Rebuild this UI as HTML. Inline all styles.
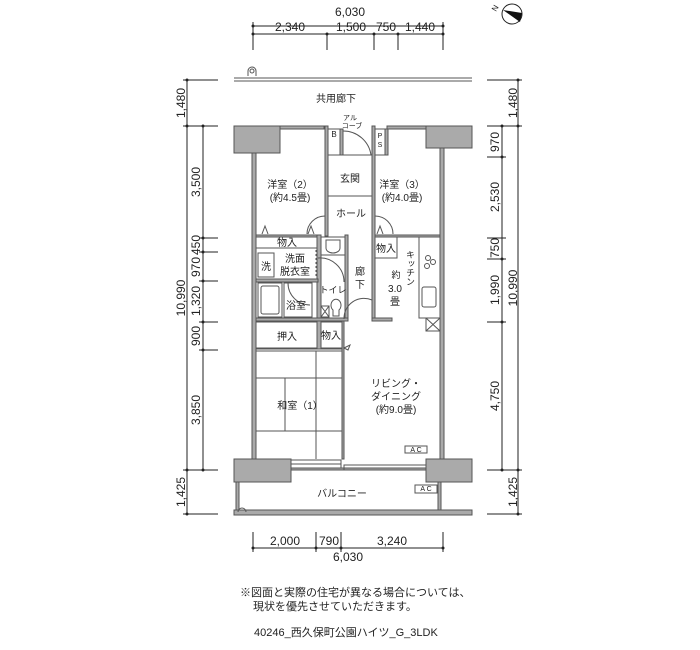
<!DOCTYPE html>
<html><head><meta charset="utf-8"><style>
html,body{margin:0;padding:0;background:#fff;}
svg{display:block;}
text{font-family:"Liberation Sans","Noto Sans CJK JP",sans-serif;fill:#222;}
</style></head><body>
<svg width="700" height="650" viewBox="0 0 700 650" xmlns="http://www.w3.org/2000/svg">
<g stroke="#222" stroke-width="1" fill="none">
<line x1="253" y1="26" x2="443" y2="26"/>
<line x1="253" y1="34" x2="443" y2="34"/>
<line x1="253" y1="22" x2="253" y2="50"/><line x1="443" y1="22" x2="443" y2="50"/>
<line x1="327" y1="34" x2="327" y2="50"/><line x1="374" y1="34" x2="374" y2="50"/><line x1="398" y1="34" x2="398" y2="50"/>
<line x1="187" y1="80" x2="187" y2="514"/>
<line x1="203" y1="126" x2="203" y2="470"/>
<line x1="183" y1="80" x2="218" y2="80"/><line x1="183" y1="126" x2="218" y2="126"/>
<line x1="199" y1="238" x2="218" y2="238"/><line x1="199" y1="252" x2="218" y2="252"/>
<line x1="199" y1="281" x2="218" y2="281"/><line x1="199" y1="322" x2="218" y2="322"/>
<line x1="199" y1="350" x2="218" y2="350"/>
<line x1="183" y1="470" x2="218" y2="470"/><line x1="183" y1="514" x2="218" y2="514"/>
<line x1="518" y1="80" x2="518" y2="514"/>
<line x1="502" y1="126" x2="502" y2="470"/>
<line x1="487" y1="80" x2="522" y2="80"/><line x1="487" y1="126" x2="522" y2="126"/>
<line x1="487" y1="157" x2="506" y2="157"/><line x1="487" y1="238" x2="506" y2="238"/>
<line x1="487" y1="259" x2="506" y2="259"/><line x1="487" y1="322" x2="506" y2="322"/>
<line x1="487" y1="470" x2="522" y2="470"/><line x1="487" y1="514" x2="522" y2="514"/>
<line x1="253" y1="548" x2="443" y2="548"/>
<line x1="253" y1="532" x2="253" y2="552"/><line x1="316" y1="532" x2="316" y2="552"/>
<line x1="341" y1="532" x2="341" y2="552"/><line x1="443" y1="532" x2="443" y2="552"/>
</g>
<g fill="#222">
<circle cx="253" cy="26" r="1.5"/><circle cx="443" cy="26" r="1.5"/>
<circle cx="253" cy="34" r="1.5"/><circle cx="327" cy="34" r="1.5"/><circle cx="374" cy="34" r="1.5"/><circle cx="398" cy="34" r="1.5"/><circle cx="443" cy="34" r="1.5"/>
<circle cx="187" cy="80" r="1.5"/><circle cx="187" cy="126" r="1.5"/><circle cx="187" cy="470" r="1.5"/><circle cx="187" cy="514" r="1.5"/>
<circle cx="203" cy="126" r="1.5"/><circle cx="203" cy="238" r="1.5"/><circle cx="203" cy="252" r="1.5"/><circle cx="203" cy="281" r="1.5"/><circle cx="203" cy="322" r="1.5"/><circle cx="203" cy="350" r="1.5"/><circle cx="203" cy="470" r="1.5"/>
<circle cx="518" cy="80" r="1.5"/><circle cx="518" cy="126" r="1.5"/><circle cx="518" cy="470" r="1.5"/><circle cx="518" cy="514" r="1.5"/>
<circle cx="502" cy="126" r="1.5"/><circle cx="502" cy="157" r="1.5"/><circle cx="502" cy="259" r="1.5"/><circle cx="502" cy="322" r="1.5"/><circle cx="502" cy="470" r="1.5"/>
<circle cx="253" cy="548" r="1.5"/><circle cx="316" cy="548" r="1.5"/><circle cx="341" cy="548" r="1.5"/><circle cx="443" cy="548" r="1.5"/>
</g>
<g font-size="12" text-anchor="middle">
<text x="350" y="16">6,030</text>
<text x="290" y="31">2,340</text><text x="351" y="31">1,500</text><text x="386" y="31">750</text><text x="420" y="31">1,440</text>
<text x="285" y="545">2,000</text><text x="329" y="545">790</text><text x="392" y="545">3,240</text>
<text x="348" y="561">6,030</text>
</g>
<g font-size="12" text-anchor="middle">
<text transform="translate(185,103) rotate(-90)">1,480</text>
<text transform="translate(185,298) rotate(-90)">10,990</text>
<text transform="translate(185,492) rotate(-90)">1,425</text>
<text transform="translate(200,182) rotate(-90)">3,500</text>
<text transform="translate(200,245) rotate(-90)">450</text>
<text transform="translate(200,267) rotate(-90)">970</text>
<text transform="translate(200,301) rotate(-90)">1,320</text>
<text transform="translate(200,336) rotate(-90)">900</text>
<text transform="translate(200,410) rotate(-90)">3,850</text>
<text transform="translate(517,103) rotate(-90)">1,480</text>
<text transform="translate(517,288) rotate(-90)">10,990</text>
<text transform="translate(517,492) rotate(-90)">1,425</text>
<text transform="translate(499,142) rotate(-90)">970</text>
<text transform="translate(499,197) rotate(-90)">2,530</text>
<text transform="translate(499,248) rotate(-90)">750</text>
<text transform="translate(499,290) rotate(-90)">1,990</text>
<text transform="translate(499,396) rotate(-90)">4,750</text>
</g>
<circle cx="512" cy="14" r="10" fill="#fff" stroke="#222"/>
<path d="M503,10 L522,13 L520,22 Z" fill="#111"/>
<text x="496" y="12" font-size="8" transform="rotate(-60 496 12)">N</text>
<g stroke="#555" fill="none">
<line x1="234" y1="78" x2="472" y2="78"/><line x1="234" y1="81" x2="472" y2="81"/>
<path d="M248,76 v-5 a4,4 0 0 1 8,0 v5" /><circle cx="252" cy="71" r="2"/>
</g>
<text x="336" y="102" font-size="10" text-anchor="middle">共用廊下</text>
<text x="350" y="120" font-size="7" text-anchor="middle">アル</text>
<text x="352" y="128" font-size="7" text-anchor="middle">コーブ</text>
<g fill="#aaa" stroke="#555" stroke-width="1">
<rect x="234" y="126" width="46" height="27"/>
<rect x="426" y="126" width="46" height="22"/>
<rect x="234" y="459" width="57" height="23"/>
<rect x="426" y="459" width="46" height="23"/>
<rect x="252" y="153" width="4" height="306"/>
<rect x="440" y="148" width="4" height="311"/>
<rect x="280" y="126" width="44" height="3"/>
<rect x="387" y="126" width="39" height="3"/>
<rect x="325" y="126" width="3" height="110"/>
<rect x="372" y="126" width="3" height="194"/>
<rect x="340" y="129" width="3" height="26"/>
<rect x="385" y="129" width="3" height="26"/>
<rect x="256" y="235" width="62" height="2"/>
<rect x="375" y="235" width="65" height="2"/>
<rect x="317" y="235" width="4" height="114"/>
<rect x="345" y="235" width="3" height="85"/>
<rect x="256" y="279" width="62" height="3"/>
<rect x="256" y="318" width="92" height="3"/>
<rect x="372" y="318" width="20" height="3"/>
<rect x="342" y="321" width="2" height="138"/>
<rect x="291" y="468" width="135" height="2"/>
<rect x="236" y="482" width="3" height="30"/>
<rect x="438" y="482" width="3" height="28"/>
<rect x="234" y="510" width="238" height="5"/>
</g>
<g stroke="#555" fill="none" stroke-width="1">
<line x1="328" y1="155" x2="372" y2="155"/>
<line x1="328" y1="196" x2="372" y2="196"/>
<rect x="328" y="129" width="12" height="26"/>
<rect x="375" y="129" width="10" height="26"/>
<path d="M343,131 A28,28 0 0 1 371,155"/><line x1="343" y1="131" x2="343" y2="155"/>
<path d="M325,216 A18,18 0 0 0 307,234"/><path d="M375,216 A18,18 0 0 1 393,234"/>
<path d="M344,319 A20,20 0 0 1 372,300"/>
<path d="M262,234 l3,-8 l3,8 M308,234 l3,-8 l3,8 M377,234 l3,-8 l3,8"/>
<rect x="256" y="237" width="61" height="11"/>
<rect x="321" y="237" width="24" height="18"/>
<path d="M326,240 h14 v8 a7,5 0 0 1 -14,0 z"/>
<rect x="258" y="253" width="16" height="24"/>
<line x1="316" y1="250" x2="316" y2="278" stroke-dasharray="2,2"/>
<path d="M318,258 A24,24 0 0 1 344,282"/>
<rect x="258" y="283" width="24" height="34"/><rect x="261" y="286" width="18" height="28" rx="2"/>
<path d="M288,283 A22,22 0 0 0 310,305"/>
<rect x="284" y="283" width="28" height="34"/>
<rect x="321" y="306" width="8" height="11"/><path d="M321,306 l8,11 M329,306 l-8,11"/>
<path d="M333,316 v-6 a5,6 0 1 1 6,0 v6 z"/>
<rect x="256" y="322" width="61" height="26"/>
<rect x="321" y="322" width="21" height="26"/>
<line x1="256" y1="349" x2="342" y2="349"/><line x1="256" y1="351" x2="342" y2="351"/>
<path d="M344,348 l6,-3 l-2,5 z"/>
<line x1="256" y1="378" x2="342" y2="378"/>
<line x1="256" y1="431" x2="342" y2="431"/>
<line x1="285" y1="378" x2="285" y2="431"/>
<line x1="316" y1="351" x2="316" y2="459"/>
<rect x="375" y="237" width="22" height="21"/>
<rect x="419" y="237" width="21" height="81"/>
<circle cx="428" cy="258" r="2.5"/><circle cx="433" cy="262" r="2.5"/><circle cx="427" cy="266" r="2.5"/>
<rect x="422" y="287" width="14" height="20" rx="2"/>
<rect x="426" y="318" width="14" height="13"/><path d="M426,318 l14,13 M440,318 l-14,13"/>
<rect x="291" y="460" width="50" height="8"/><line x1="291" y1="464" x2="341" y2="464"/>
<rect x="344" y="465" width="82" height="5"/>
<rect x="405" y="446" width="22" height="7"/>
<rect x="415" y="485" width="22" height="8"/>
<path d="M238,512 a4,4 0 0 1 8,0"/>
</g>
<g font-size="10" text-anchor="middle">
<text x="334" y="137" font-size="8">B</text>
<text x="380" y="138" font-size="7">P</text><text x="380" y="147" font-size="7">S</text>
<text x="350" y="182">玄関</text>
<text x="351" y="217">ホール</text>
<text x="290" y="188">洋室（2）</text><text x="290" y="201">(約4.5畳)</text>
<text x="402" y="188">洋室（3）</text><text x="402" y="201">(約4.0畳)</text>
<text x="287" y="246">物入</text>
<text x="266" y="270">洗</text>
<text x="295" y="262">洗面</text><text x="295" y="275">脱衣室</text>
<text x="296" y="309">浴室</text>
<text x="333" y="293" font-size="9">トイレ</text>
<text x="360" y="275">廊</text><text x="360" y="288">下</text>
<text x="386" y="252">物入</text>
<text x="396" y="278" font-size="9">約</text><text x="395" y="292">3.0</text><text x="395" y="305">畳</text>
<text x="410" y="268" font-size="9" writing-mode="tb">キッチン</text>
<text x="287" y="340">押入</text>
<text x="331" y="339">物入</text>
<text x="300" y="409">和室（1）</text>
<text x="396" y="387">リビング・</text><text x="396" y="400">ダイニング</text><text x="396" y="413">(約9.0畳)</text>
<text x="416" y="452" font-size="7">A C</text>
<text x="426" y="491" font-size="7">A C</text>
<text x="342" y="497">バルコニー</text>
</g>
<g font-size="11" text-anchor="start">
<text x="240" y="596">※図面と実際の住宅が異なる場合については、</text>
<text x="253" y="610">現状を優先させていただきます。</text>
<text x="254" y="636">40246_西久保町公園ハイツ_G_3LDK</text>
</g>
</svg>
</body></html>
